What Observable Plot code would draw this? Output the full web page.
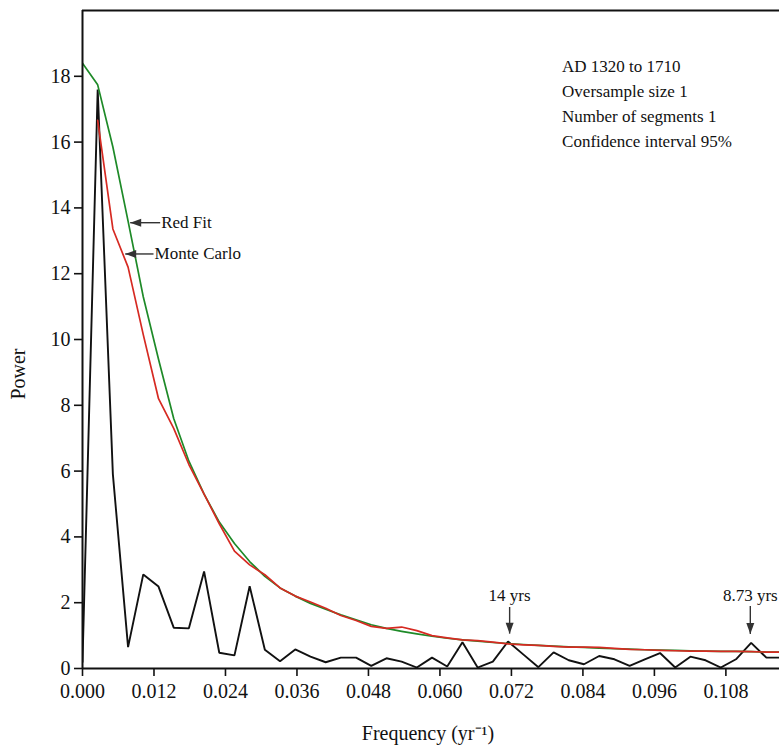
<!DOCTYPE html>
<html>
<head>
<meta charset="utf-8">
<script src="https://cdn.jsdelivr.net/npm/d3@7"></script>
<script src="https://cdn.jsdelivr.net/npm/@observablehq/plot@0.6"></script>
<style>
  html, body { margin: 0; padding: 0; background: #fff; }
  #chart svg { display: block; }
</style>
</head>
<body>
<div id="chart"></div>
<script>
// Frequency grid (yr^-1)
const frequency = [0, 0.00255, 0.0051, 0.00765, 0.0102, 0.01276, 0.01531, 0.01786, 0.02041, 0.02296,
  0.02551, 0.02806, 0.03061, 0.03316, 0.03571, 0.03827, 0.04082, 0.04337, 0.04592, 0.04847,
  0.05102, 0.05357, 0.05612, 0.05867, 0.06122, 0.06378, 0.06633, 0.06888, 0.07143, 0.07398,
  0.07653, 0.07908, 0.08163, 0.08418, 0.08673, 0.08929, 0.09184, 0.09439, 0.09694, 0.09949,
  0.10204, 0.10459, 0.10714, 0.10969, 0.11224, 0.1148, 0.11735];

// Spectrum power (black)
const spectrum = [0.2, 17.6, 5.9, 0.65, 2.86, 2.49, 1.24, 1.22, 2.95, 0.48,
  0.40, 2.50, 0.57, 0.22, 0.58, 0.36, 0.19, 0.33, 0.33, 0.08,
  0.31, 0.21, 0.03, 0.33, 0.06, 0.80, 0.03, 0.21, 0.82, 0.43,
  0.04, 0.49, 0.25, 0.13, 0.38, 0.28, 0.08, 0.28, 0.47, 0.03,
  0.36, 0.25, 0.03, 0.28, 0.78, 0.33, 0.33];

// Red Fit (green)
const redFit = [18.4, 17.74, 15.85, 13.6, 11.3, 9.4, 7.6, 6.3, 5.3, 4.45,
  3.8, 3.25, 2.8, 2.45, 2.2, 1.98, 1.8, 1.63, 1.48, 1.33,
  1.22, 1.13, 1.05, 0.98, 0.92, 0.87, 0.83, 0.79, 0.76, 0.73,
  0.70, 0.68, 0.66, 0.64, 0.62, 0.60, 0.59, 0.57, 0.56, 0.55,
  0.54, 0.53, 0.52, 0.52, 0.51, 0.50, 0.50];

// Monte Carlo (red)
const monteCarlo = [null, 16.66, 13.36, 12.2, 10.15, 8.2, 7.3, 6.2, 5.3, 4.4,
  3.57, 3.15, 2.85, 2.45, 2.2, 2.02, 1.83, 1.61, 1.46, 1.28,
  1.22, 1.26, 1.15, 1.0, 0.93, 0.87, 0.85, 0.80, 0.75, 0.72,
  0.70, 0.67, 0.65, 0.65, 0.64, 0.61, 0.58, 0.57, 0.55, 0.54,
  0.53, 0.53, 0.52, 0.52, 0.51, 0.50, 0.50];

const xTicks = [0, 0.012, 0.024, 0.036, 0.048, 0.060, 0.072, 0.084, 0.096, 0.108];
const yTicks = [0, 2, 4, 6, 8, 10, 12, 14, 16, 18];

const infoLines = ["AD 1320 to 1710", "Oversample size 1", "Number of segments 1", "Confidence interval 95%"];

// Curve annotations (left-pointing arrows)
const curveLabels = ["Red Fit", "Monte Carlo"];
const curveTipF = [0.0080, 0.00717];
const curveTipP = [13.55, 12.6];
const curveTailF = [0.01304, 0.01192];

// Peak annotations (down-pointing arrows)
const peakLabels = ["14 yrs", "8.73 yrs"];
const peakF = [0.0717, 0.1121];
const peakTextP = [2.22, 2.22];
const peakTailP = [1.87, 1.9];
const peakTipP = [1.06, 1.05];

const rows = frequency.map((f, i) => ({f, spectrum: spectrum[i], redFit: redFit[i], monteCarlo: monteCarlo[i]}));
const curveAnn = curveLabels.map((t, i) => ({t, tipF: curveTipF[i], p: curveTipP[i], tailF: curveTailF[i]}));
const peakAnn = peakLabels.map((t, i) => ({t, f: peakF[i], textP: peakTextP[i], tailP: peakTailP[i], tipP: peakTipP[i]}));

const headDown = {draw(ctx) { ctx.moveTo(0, 0); ctx.lineTo(-4, -11); ctx.lineTo(4, -11); ctx.closePath(); }};
const headLeft = {draw(ctx) { ctx.moveTo(0, 0); ctx.lineTo(11, -4); ctx.lineTo(11, 4); ctx.closePath(); }};

const serif = "'Liberation Serif', 'Times New Roman', serif";

const chart = Plot.plot({
  width: 779,
  height: 746,
  marginLeft: 82,
  marginRight: 0,
  marginTop: 10,
  marginBottom: 78,
  style: {fontFamily: serif, fontSize: "20px", color: "#111", background: "#fff"},
  x: {domain: [0, 0.117]},
  y: {domain: [0, 20]},
  marks: [
    Plot.line(rows, {x: "f", y: "spectrum", stroke: "#111", strokeWidth: 1.9, strokeLinejoin: "miter", clip: true}),
    Plot.line(rows, {x: "f", y: "redFit", stroke: "#1e8a28", strokeWidth: 1.7, clip: true}),
    Plot.line(rows.filter(d => d.monteCarlo != null), {x: "f", y: "monteCarlo", stroke: "#d62a22", strokeWidth: 1.7, clip: true}),
    // frame
    Plot.ruleY([0, 20], {stroke: "#111", strokeWidth: 2}),
    Plot.ruleX([0], {stroke: "#111", strokeWidth: 2}),
    Plot.axisX({ticks: xTicks, tickFormat: d3.format(".3f"), tickSize: 8, tickPadding: 7, fontSize: 20, strokeWidth: 1.6, label: null}),
    Plot.axisY({ticks: yTicks, tickSize: 8, tickPadding: 4, fontSize: 20, strokeWidth: 1.6, label: null}),
    // axis titles
    Plot.text(["Frequency (yr\u207B\u00B9)"], {text: d => d, x: () => 0.05799, y: () => -1.98, fontSize: 20, lineAnchor: "middle", clip: false}),
    Plot.text(["Power"], {text: d => d, x: () => -0.01074, y: () => 8.95, rotate: -90, fontSize: 20, lineAnchor: "middle", clip: false}),
    // info block
    Plot.text([infoLines.join("\n")], {text: d => d, x: () => 0.0805, y: () => 17.24, textAnchor: "start", lineAnchor: "middle", lineHeight: 1.47, fontSize: 17}),
    // curve annotations
    Plot.link(curveAnn, {x1: "tipF", y1: "p", x2: "tailF", y2: "p", stroke: "#333", strokeWidth: 1.4}),
    Plot.dot(curveAnn, {x: "tipF", y: "p", symbol: headLeft, fill: "#333", r: 5}),
    Plot.text(curveAnn, {x: "tailF", y: "p", text: "t", textAnchor: "start", dx: 1, fontSize: 17, fill: "#111"}),
    // peak annotations
    Plot.link(peakAnn, {x1: "f", y1: "tailP", x2: "f", y2: "tipP", stroke: "#333", strokeWidth: 1.4}),
    Plot.dot(peakAnn, {x: "f", y: "tipP", symbol: headDown, fill: "#333", r: 5}),
    Plot.text(peakAnn, {x: "f", y: "textP", text: "t", fontSize: 17, fill: "#111"})
  ]
});
document.getElementById("chart").appendChild(chart);
</script>
</body>
</html>
